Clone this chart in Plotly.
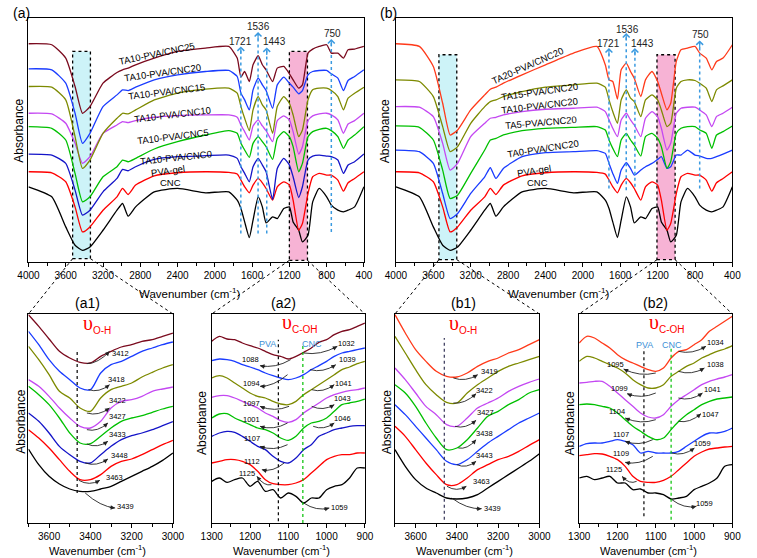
import plotly.graph_objects as go

# ---------------- data (arbitrary absorbance units) ----------------
W_TOP = [4000, 3750, 3600, 3500, 3420, 3340, 3200, 3050, 2990, 2930, 2850, 2650, 2400, 2100,
         1850, 1760, 1720, 1680, 1630, 1590, 1535, 1490, 1450, 1380, 1330, 1260, 1200, 1160,
         1100, 1060, 1000, 950, 880, 800, 750, 680, 620, 570, 500, 400]

CNC = [225, 195, 105, 50, 35, 45, 95, 155, 175, 137, 165, 210, 220, 207, 210, 185, 160, 120, 73, 125,
       195, 165, 117, 135, 130, 160, 165, 120, 95, 60, 80, 180, 220, 195, 170, 155, 150, 155, 165, 225]
PVA_GEL = [270, 267, 240, 165, 90, 105, 155, 195, 220, 202, 230, 258, 267, 270, 268, 263, 245, 225, 207, 230,
           250, 237, 220, 185, 225, 240, 230, 185, 95, 115, 205, 255, 265, 260, 260, 245, 212, 237, 250, 270]
A_CNC0 = [323, 320, 295, 215, 140, 155, 210, 250, 277, 273, 285, 307, 315, 318, 320, 310, 285, 265, 240, 285,
          310, 290, 270, 187, 280, 310, 290, 255, 193, 225, 305, 317, 320, 317, 315, 305, 265, 290, 300, 323]
A_CNC5 = [405, 400, 365, 265, 180, 195, 255, 285, 305, 300, 310, 338, 360, 380, 393, 385, 355, 335, 313, 355,
          375, 360, 345, 307, 370, 390, 375, 345, 270, 295, 375, 390, 397, 400, 393, 375, 340, 365, 380, 405]
A_CNC10 = [445, 443, 415, 355, 295, 315, 385, 410, 420, 417, 423, 433, 438, 440, 440, 433, 410, 390, 365, 407,
           425, 407, 393, 360, 423, 437, 425, 390, 323, 345, 423, 437, 443, 445, 440, 425, 385, 413, 423, 445]
A_CNC15 = [525, 523, 485, 375, 280, 305, 385, 430, 445, 443, 455, 485, 505, 517, 520, 505, 465, 430, 393, 455,
           495, 470, 455, 385, 465, 495, 475, 440, 375, 395, 485, 515, 520, 520, 513, 495, 455, 490, 505, 523]
A_CNC20 = [578, 575, 535, 445, 355, 385, 465, 500, 515, 513, 523, 545, 560, 570, 573, 555, 505, 485, 455, 515,
           550, 530, 513, 460, 530, 553, 535, 523, 503, 513, 560, 570, 573, 573, 563, 550, 513, 543, 555, 575]
A_CNC25 = [653, 650, 610, 525, 445, 465, 535, 567, 575, 580, 590, 610, 630, 640, 645, 610, 553, 570, 540, 590,
           617, 590, 575, 540, 580, 585, 563, 545, 520, 530, 625, 637, 645, 650, 625, 625, 610, 635, 637, 645]

B_TA0 = [335, 330, 295, 205, 130, 145, 205, 255, 282, 250, 280, 315, 327, 330, 333, 325, 295, 265, 235, 275,
         297, 280, 260, 275, 285, 295, 307, 315, 280, 285, 320, 320, 335, 320, 317, 310, 310, 315, 323, 335]
B_TA5 = [407, 403, 365, 275, 190, 200, 265, 335, 365, 370, 380, 393, 400, 403, 405, 395, 365, 340, 315, 365,
         385, 365, 350, 317, 375, 385, 370, 345, 280, 300, 385, 400, 405, 405, 395, 385, 340, 380, 390, 407]
B_TA10 = [465, 463, 435, 355, 275, 295, 375, 415, 430, 433, 440, 450, 457, 460, 463, 450, 425, 400, 375, 425,
          445, 425, 410, 375, 430, 450, 435, 400, 335, 355, 445, 460, 463, 463, 455, 440, 405, 435, 445, 463]
B_TA15 = [545, 540, 495, 405, 330, 345, 415, 465, 480, 485, 495, 510, 523, 530, 535, 523, 485, 450, 415, 485,
          515, 490, 480, 435, 485, 500, 485, 455, 405, 415, 520, 540, 545, 543, 535, 520, 480, 515, 527, 545]
B_TA20 = [653, 645, 585, 475, 380, 395, 455, 500, 517, 523, 535, 560, 590, 625, 645, 590, 545, 540, 487, 575,
          595, 570, 550, 495, 545, 570, 540, 505, 455, 475, 600, 635, 640, 645, 625, 610, 575, 600, 610, 650]

W_OH = [3700, 3650, 3600, 3550, 3500, 3450, 3400, 3350, 3300, 3250, 3200, 3150, 3100, 3050, 3000]
A1_CNC = [222, 175, 140, 117, 102, 95, 95, 102, 110, 125, 140, 155, 170, 188, 210]
A1_PVA = [280, 255, 225, 190, 155, 130, 130, 145, 170, 185, 192, 205, 220, 235, 248]
A1_CNC0 = [330, 305, 270, 230, 205, 185, 180, 205, 230, 250, 262, 270, 280, 292, 304]
A1_CNC5 = [410, 385, 355, 315, 270, 240, 238, 260, 285, 305, 315, 322, 332, 342, 350]
A1_CNC10 = [430, 410, 380, 345, 315, 290, 285, 305, 345, 365, 370, 380, 395, 402, 408]
A1_CNC15 = [530, 490, 445, 395, 375, 345, 335, 375, 400, 410, 420, 438, 452, 465, 475]
A1_CNC20 = [575, 535, 490, 455, 430, 405, 400, 450, 475, 485, 500, 515, 525, 535, 543]
A1_CNC25 = [625, 590, 552, 515, 495, 482, 480, 500, 515, 528, 535, 545, 550, 560, 570]

B1_CNC = [220, 170, 130, 105, 90, 75, 72, 75, 85, 105, 125, 145, 165, 185, 208]
B1_PVA = [290, 260, 220, 180, 145, 115, 115, 135, 160, 175, 190, 200, 215, 233, 250]
B1_TA0 = [355, 325, 290, 255, 220, 185, 175, 190, 215, 240, 260, 280, 300, 315, 330]
B1_TA5 = [415, 390, 350, 300, 255, 220, 225, 250, 285, 320, 335, 355, 370, 390, 400]
B1_TA10 = [465, 430, 390, 350, 325, 295, 290, 315, 345, 360, 375, 395, 410, 422, 432]
B1_TA15 = [560, 510, 460, 415, 385, 362, 360, 390, 415, 435, 455, 470, 480, 490, 500]
B1_TA20 = [625, 570, 520, 485, 455, 440, 438, 450, 470, 485, 495, 510, 520, 535, 550]

W_COH = [1300, 1280, 1260, 1240, 1220, 1200, 1180, 1160, 1140, 1120, 1100, 1080, 1060, 1040, 1020,
         1000, 980, 960, 940, 920, 900]
A2_CNC = [125, 135, 122, 130, 135, 110, 125, 95, 100, 75, 90, 80, 60, 75, 75, 100, 110, 115, 135, 165, 165]
A2_PVA = [180, 185, 190, 190, 185, 175, 155, 130, 118, 115, 115, 120, 130, 150, 170, 190, 200, 205, 205, 210, 210]
A2_CNC0 = [260, 270, 275, 272, 260, 245, 230, 220, 200, 185, 180, 195, 220, 235, 260, 270, 280, 285, 290, 292, 292]
A2_CNC5 = [315, 327, 328, 315, 305, 295, 285, 280, 270, 255, 248, 260, 285, 300, 305, 315, 335, 355, 360, 365, 372]
A2_CNC10 = [377, 382, 382, 375, 365, 355, 345, 330, 320, 307, 302, 310, 330, 345, 360, 375, 385, 392, 397, 400, 405]
A2_CNC15 = [435, 442, 435, 420, 405, 390, 380, 375, 365, 357, 355, 365, 385, 400, 415, 430, 445, 460, 468, 478, 485]
A2_CNC20 = [487, 492, 490, 485, 475, 468, 460, 450, 442, 435, 430, 435, 445, 460, 472, 485, 500, 510, 515, 520, 525]
A2_CNC25 = [545, 560, 552, 550, 540, 532, 525, 515, 505, 500, 492, 500, 512, 525, 542, 550, 565, 575, 580, 590, 600]

B2_CNC = [135, 140, 130, 135, 140, 120, 120, 100, 102, 90, 90, 85, 72, 75, 80, 100, 110, 120, 135, 170, 175]
B2_PVA = [202, 205, 208, 207, 200, 190, 170, 140, 125, 122, 122, 128, 140, 160, 180, 200, 213, 222, 225, 228, 230]
B2_TA0 = [230, 238, 240, 240, 245, 250, 245, 235, 210, 215, 210, 210, 210, 215, 230, 245, 260, 270, 270, 275, 285]
B2_TA5 = [355, 357, 355, 350, 345, 330, 310, 290, 275, 260, 250, 255, 280, 305, 325, 340, 355, 365, 372, 375, 378]
B2_TA10 = [420, 422, 425, 425, 410, 390, 370, 350, 330, 318, 315, 325, 350, 370, 385, 400, 415, 425, 432, 438, 445]
B2_TA15 = [485, 500, 495, 485, 475, 465, 450, 430, 415, 405, 405, 415, 440, 455, 470, 480, 495, 505, 515, 522, 532]
B2_TA20 = [540, 560, 555, 540, 525, 505, 490, 480, 470, 460, 455, 465, 495, 515, 520, 535, 550, 575, 590, 605, 620]

NAMES_A = ["CNC", "PVA-gel", "TA10-PVA/CNC0", "TA10-PVA/CNC5", "TA10-PVA/CNC10",
           "TA10-PVA/CNC15", "TA10-PVA/CNC20", "TA10-PVA/CNC25"]
NAMES_B = ["CNC", "PVA-gel", "TA0-PVA/CNC20", "TA5-PVA/CNC20", "TA10-PVA/CNC20",
           "TA15-PVA/CNC20", "TA20-PVA/CNC20"]
PEAKS_TOP = [1721, 1536, 1443, 750]

# ---------------- styles ----------------
COLORS_A = ['#000000', '#ff0000', '#1414c8', '#00c000', '#c448f2', '#7d8a00', '#1a3cff', '#7a0a1e']
COLORS_B = ['#000000', '#ff0000', '#1a3cff', '#00c000', '#c448f2', '#7d8a00', '#ff3a1a']
FN = "Liberation Sans, Arial, sans-serif"
FR = "Liberation Sans, Arial, sans-serif"
FS = "Liberation Serif, Times New Roman, serif"
FIG_W, FIG_H = 757, 558
PEAK_BLUE = '#3a9ae0'


def dx(a, b):
    return [a / FIG_W, b / FIG_W]


def dy(top, bot):
    return [1 - bot / FIG_H, 1 - top / FIG_H]


def pp(x, y):
    return x / FIG_W, 1 - y / FIG_H


panels = {
    'a': dict(x='x', y='y', xd=dx(18, 364), yd=dy(18, 262), xr=[4000, 400], yr=[0, 730], t0=400, dt=400, mn=200),
    'b': dict(x='x2', y='y2', xd=dx(397, 744), yd=dy(18, 262), xr=[4000, 400], yr=[0, 730], t0=400, dt=400, mn=200),
    'a1': dict(x='x3', y='y3', xd=dx(18, 167), yd=dy(314, 523), xr=[3700, 3000], yr=[0, 627], t0=3000, dt=200, mn=100),
    'a2': dict(x='x4', y='y4', xd=dx(207, 365), yd=dy(314, 523), xr=[1300, 900], yr=[0, 627], t0=900, dt=100, mn=50),
    'b1': dict(x='x5', y='y5', xd=dx(396, 545), yd=dy(314, 523), xr=[3700, 3000], yr=[0, 627], t0=3000, dt=200, mn=100),
    'b2': dict(x='x6', y='y6', xd=dx(586, 744), yd=dy(314, 523), xr=[1300, 900], yr=[0, 627], t0=900, dt=100, mn=50),
}


def paper_x(p, w):
    P = panels[p]
    r0, r1 = P['xr']
    d0, d1 = P['xd']
    return d0 + (w - r0) / (r1 - r0) * (d1 - d0)


def paper_y(p, v):
    P = panels[p]
    r0, r1 = P['yr']
    d0, d1 = P['yd']
    return d0 + (v - r0) / (r1 - r0) * (d1 - d0)


def scales(p):
    P = panels[p]
    sx = (P['xd'][1] - P['xd'][0]) * FIG_W / (P['xr'][1] - P['xr'][0])
    sy = (P['yd'][1] - P['yd'][0]) * FIG_H / (P['yr'][1] - P['yr'][0])
    return sx, sy


fig = go.Figure()
shapes = []
anns = []


def add_curve(p, xs, ys, color, width=1.3, smooth=0.6):
    P = panels[p]
    fig.add_trace(go.Scatter(x=xs, y=ys, mode='lines', xaxis=P['x'], yaxis=P['y'],
                             line=dict(color=color, width=width, shape='spline', smoothing=smooth),
                             showlegend=False, hoverinfo='skip'))


def text(p, x, y, s, size=11, color='black', angle=0, family=FN, xanchor='center'):
    P = panels[p]
    anns.append(dict(x=x, y=y, xref=P['x'], yref=P['y'], text=s, showarrow=False, textangle=angle,
                     font=dict(family=family, size=size, color=color), xanchor=xanchor, yanchor='middle'))


def ptext(x, y, s, size=12, family=FN, angle=0, color='black', xanchor='center', yanchor='middle'):
    px, py = pp(x, y)
    anns.append(dict(x=px, y=py, xref='paper', yref='paper', text=s, showarrow=False, textangle=angle,
                     font=dict(family=family, size=size, color=color), xanchor=xanchor, yanchor=yanchor))


def vline(p, w, v0, v1, color, width=1.3, dash='dot'):
    P = panels[p]
    shapes.append(dict(type='line', xref=P['x'], yref=P['y'], x0=w, x1=w, y0=v0, y1=v1,
                       line=dict(color=color, width=width, dash=dash)))


def box(p, w0, w1, v0, v1, fill):
    P = panels[p]
    shapes.append(dict(type='rect', xref=P['x'], yref=P['y'], x0=w0, x1=w1, y0=v0, y1=v1,
                       fillcolor=fill, layer='below', line=dict(color='black', width=1.3, dash='dot')))


def connector(p_top, w, v, p_bot, side):
    P = panels[p_bot]
    x1 = P['xd'][0] if side == 'left' else P['xd'][1]
    y1 = P['yd'][1]
    shapes.append(dict(type='line', xref='paper', yref='paper', x0=paper_x(p_top, w), y0=paper_y(p_top, v),
                       x1=x1, y1=y1, line=dict(color='black', width=1, dash='dot')))


def curved_arrow(p, tail, head, bulge=18, color='#222222'):
    P = panels[p]
    (x0, y0), (x1, y1) = tail, head
    cx = (x0 + x1) / 2
    cy = (y0 + y1) / 2 - bulge
    shapes.append(dict(type='path', xref=P['x'], yref=P['y'],
                       path=f"M {x0},{y0} Q {cx},{cy} {x1},{y1}",
                       line=dict(color=color, width=0.9)))
    sx, sy = scales(p)
    dxp = (x1 - cx) * sx
    dyp = (y1 - cy) * sy
    L = (dxp ** 2 + dyp ** 2) ** 0.5 or 1
    anns.append(dict(x=x1, y=y1, xref=P['x'], yref=P['y'], text='', showarrow=True,
                     ax=-dxp / L * 7, ay=dyp / L * 7, arrowhead=2, arrowsize=0.9, arrowwidth=1,
                     arrowcolor=color, standoff=0, font=dict(size=1)))


# ---------------- boxes (drawn below curves) ----------------
box('a', 3526, 3335, 10, 630, '#cdf3f8')
box('a', 1200, 1006, 5, 630, '#f7b3d5')
box('b', 3540, 3349, 7, 620, '#cdf3f8')
box('b', 1207, 1013, 7, 620, '#f7b3d5')

# ---------------- top panels ----------------
SERIES_A = [CNC, PVA_GEL, A_CNC0, A_CNC5, A_CNC10, A_CNC15, A_CNC20, A_CNC25]
SERIES_B = [CNC, PVA_GEL, B_TA0, B_TA5, B_TA10, B_TA15, B_TA20]
for s, c in zip(SERIES_A, COLORS_A):
    add_curve('a', W_TOP, s, c, smooth=0.5)
for s, c in zip(SERIES_B, COLORS_B):
    add_curve('b', W_TOP, s, c, smooth=0.5)

LAB_A = [(2480, 239, 0), (2498, 273, -8), (2418, 313, -6), (2453, 375, -7), (2453, 440, -7),
         (2515, 510, -7), (2557, 567, -8), (2622, 625, -12)]
LAB_B = [(2484, 239, 0), (2518, 275, -9), (2422, 340, -9), (2449, 417, -5), (2463, 467, -7),
         (2460, 510, -8), (2588, 588, -24)]
for (w, v, a), n in zip(LAB_A, NAMES_A):
    text('a', w, v, n, size=9.5, angle=a)
for (w, v, a), n in zip(LAB_B, NAMES_B):
    text('b', w, v, n, size=9.5, angle=a)

# peak markers (blue dotted lines with arrow heads)
PEAK_GEOM = {
    'a': [(85, 645, 1726, 660), (85, 688, 1528, 705), (85, 642, 1355, 660), (90, 667, 739, 685)],
    'b': [(220, 640, 1726, 655), (215, 685, 1525, 697), (225, 640, 1359, 655), (220, 663, 739, 680)],
}
for p, geo in PEAK_GEOM.items():
    P = panels[p]
    for pk, (vb, vt, lw, lv) in zip(PEAKS_TOP, geo):
        vline(p, pk, vb, vt - 3, PEAK_BLUE, width=1.5)
        anns.append(dict(x=pk, y=vt, xref=P['x'], yref=P['y'], text='', showarrow=True, ax=0, ay=9,
                         arrowhead=4, arrowsize=1.1, arrowwidth=1.2, arrowcolor=PEAK_BLUE, standoff=0,
                         font=dict(size=1)))
        text(p, lw, lv, str(pk), size=10, color='#222222')

# ---------------- zoomed panels ----------------
A1 = [A1_CNC, A1_PVA, A1_CNC0, A1_CNC5, A1_CNC10, A1_CNC15, A1_CNC20, A1_CNC25]
A2 = [A2_CNC, A2_PVA, A2_CNC0, A2_CNC5, A2_CNC10, A2_CNC15, A2_CNC20, A2_CNC25]
B1 = [B1_CNC, B1_PVA, B1_TA0, B1_TA5, B1_TA10, B1_TA15, B1_TA20]
B2 = [B2_CNC, B2_PVA, B2_TA0, B2_TA5, B2_TA10, B2_TA15, B2_TA20]
for s, c in zip(A1, COLORS_A):
    add_curve('a1', W_OH, s, c, smooth=0.8)
for s, c in zip(A2, COLORS_A):
    add_curve('a2', W_COH, s, c, smooth=0.8)
for s, c in zip(B1, COLORS_B):
    add_curve('b1', W_OH, s, c, smooth=0.8)
for s, c in zip(B2, COLORS_B):
    add_curve('b2', W_COH, s, c, smooth=0.8)

vline('a1', 3464, 90, 520, 'black', width=1.2)
vline('b1', 3461, 10, 555, '#333355', width=1.2)
vline('a2', 1126, 5, 550, 'black', width=1.2)
vline('a2', 1062, 0, 540, '#00c000', width=1.2)
vline('b2', 1131, 20, 525, 'black', width=1.2)
vline('b2', 1060, 10, 525, '#00c000', width=1.2)

# peak call-outs: (label, label_w, label_v, tail, head)
CALL_A1 = [("3412", 3252, 510, (3417, 478), (3307, 515)),
           ("3418", 3275, 432, (3409, 400), (3307, 415)),
           ("3422", 3267, 367, (3417, 330), (3307, 345)),
           ("3427", 3267, 320, (3417, 280), (3315, 300)),
           ("3433", 3267, 265, (3417, 237), (3315, 245)),
           ("3448", 3260, 203, (3425, 180), (3315, 192)),
           ("3463", 3283, 138, (3456, 128), (3354, 128)),
           ("3439", 3228, 50, (3425, 90), (3280, 45))]
CALL_B1 = [("3419", 3244, 455, (3417, 435), (3299, 445)),
           ("3422", 3267, 397, (3417, 360), (3307, 388)),
           ("3427", 3260, 332, (3409, 290), (3307, 308)),
           ("3438", 3267, 268, (3393, 225), (3307, 250)),
           ("3443", 3267, 203, (3401, 175), (3307, 185)),
           ("3463", 3283, 125, (3448, 110), (3354, 110)),
           ("3439", 3228, 43, (3425, 75), (3280, 43))]
CALL_A2 = [("1032", 948, 540, (1060, 510), (972, 530)),
           ("1088", 1199, 490, (1094, 490), (1174, 472)),
           ("1039", 945, 490, (1043, 460), (976, 475)),
           ("1094", 1195, 420, (1102, 445), (1174, 410)),
           ("1041", 955, 420, (1039, 400), (980, 415)),
           ("1097", 1195, 360, (1098, 350), (1174, 350)),
           ("1043", 959, 375, (1039, 350), (980, 355)),
           ("1001", 1195, 310, (1102, 300), (1174, 290)),
           ("1046", 959, 315, (1035, 290), (980, 300)),
           ("1107", 1195, 255, (1102, 235), (1174, 230)),
           ("1112", 1195, 185, (1111, 180), (1169, 160)),
           ("1125", 1207, 150, (1144, 115), (1182, 140)),
           ("1059", 967, 48, (1060, 60), (993, 45))]
CALL_B2 = [("1034", 944, 543, (1041, 515), (969, 530)),
           ("1095", 1205, 475, (1100, 450), (1184, 462)),
           ("1038", 944, 475, (1041, 455), (973, 465)),
           ("1099", 1196, 405, (1100, 390), (1175, 388)),
           ("1041", 952, 400, (1041, 375), (978, 390)),
           ("1104", 1201, 335, (1100, 310), (1180, 315)),
           ("1047", 956, 325, (1041, 305), (982, 328)),
           ("1107", 1192, 265, (1108, 250), (1180, 245)),
           ("1059", 978, 238, (1058, 210), (999, 225)),
           ("1109", 1192, 208, (1108, 200), (1180, 182)),
           ("1125", 1209, 160, (1150, 125), (1188, 140)),
           ("1059", 973, 58, (1058, 70), (994, 50))]
for p, calls in (('a1', CALL_A1), ('b1', CALL_B1), ('a2', CALL_A2), ('b2', CALL_B2)):
    for lab, lw, lv, tail, head in calls:
        curved_arrow(p, tail, head)
        text(p, lw, lv, lab, size=7.5)

SUB = "<span style='font-family:Liberation Sans;font-size:10px'>%s</span>"
text('a1', 3370, 597, "υ<sub>" + SUB % "O-H" + "</sub>", size=20, color='#ff0000', family=FS)
text('b1', 3370, 597, "υ<sub>" + SUB % "O-H" + "</sub>", size=20, color='#ff0000', family=FS)
text('a2', 1071, 600, "υ<sub>" + SUB % "C-OH" + "</sub>", size=20, color='#ff0000', family=FS)
text('b2', 1073, 600, "υ<sub>" + SUB % "C-OH" + "</sub>", size=20, color='#ff0000', family=FS)
text('a2', 1155, 538, "PVA", size=9, color='#3d8fd6')
text('a2', 1039, 538, "CNC", size=9, color='#3d8fd6')
text('b2', 1129, 535, "PVA", size=9, color='#3d8fd6')
text('b2', 1058, 535, "CNC", size=9, color='#3d8fd6')

# connectors from the boxes to the zoomed panels
connector('a', 3526, 10, 'a1', 'left')
connector('a', 3335, 10, 'a1', 'right')
connector('a', 1200, 5, 'a2', 'left')
connector('a', 1006, 5, 'a2', 'right')
connector('b', 3540, 7, 'b1', 'left')
connector('b', 3349, 7, 'b1', 'right')
connector('b', 1207, 7, 'b2', 'left')
connector('b', 1013, 7, 'b2', 'right')

# ---------------- titles ----------------
XT = "Wavenumber (cm<sup>-1</sup>)"
ptext(184, 293, XT, size=11.5)
ptext(565, 293, XT, size=11.5)
for xc in (89, 279, 468, 657):
    ptext(xc, 550, XT, size=11)
for xc, yc in ((8, 131), (386, 131), (10, 422), (197, 423), (388, 422), (577, 423)):
    ptext(xc, yc, "Absorbance", size=12, family=FR, angle=-90)
ptext(0, 3, "(a)", size=14, xanchor='left', yanchor='top')
ptext(378, 3, "(b)", size=14, xanchor='left', yanchor='top')
for xc, lab in ((79, "(a1)"), (281, "(a2)"), (467, "(b1)"), (665, "(b2)")):
    ptext(xc, 303, lab, size=14)

# ---------------- layout ----------------
layout = dict(width=FIG_W, height=FIG_H, margin=dict(l=0, r=0, t=0, b=0), paper_bgcolor='white',
              plot_bgcolor='white', showlegend=False, shapes=shapes, annotations=anns)
for name, P in panels.items():
    xk = 'xaxis' + P['x'][1:]
    yk = 'yaxis' + P['y'][1:]
    layout[xk] = dict(domain=P['xd'], range=P['xr'], anchor=P['y'], showline=True, linecolor='black',
                      linewidth=1.4, mirror=True, ticks='outside', ticklen=4, tickwidth=1.1, tickcolor='black',
                      showgrid=False, zeroline=False, tickmode='linear', tick0=P['t0'], dtick=P['dt'],
                      minor=dict(ticks='outside', ticklen=2.5, tickwidth=1, tickcolor='black', dtick=P['mn'],
                                 tick0=P['t0'], showgrid=False),
                      tickfont=dict(family=FN, size=10, color='black'))
    layout[yk] = dict(domain=P['yd'], range=P['yr'], anchor=P['x'], showline=True, linecolor='black',
                      linewidth=1.4, mirror=True, ticks='', showticklabels=False, showgrid=False,
                      zeroline=False)
fig.update_layout(**layout)
fig.write_html("out.html")
